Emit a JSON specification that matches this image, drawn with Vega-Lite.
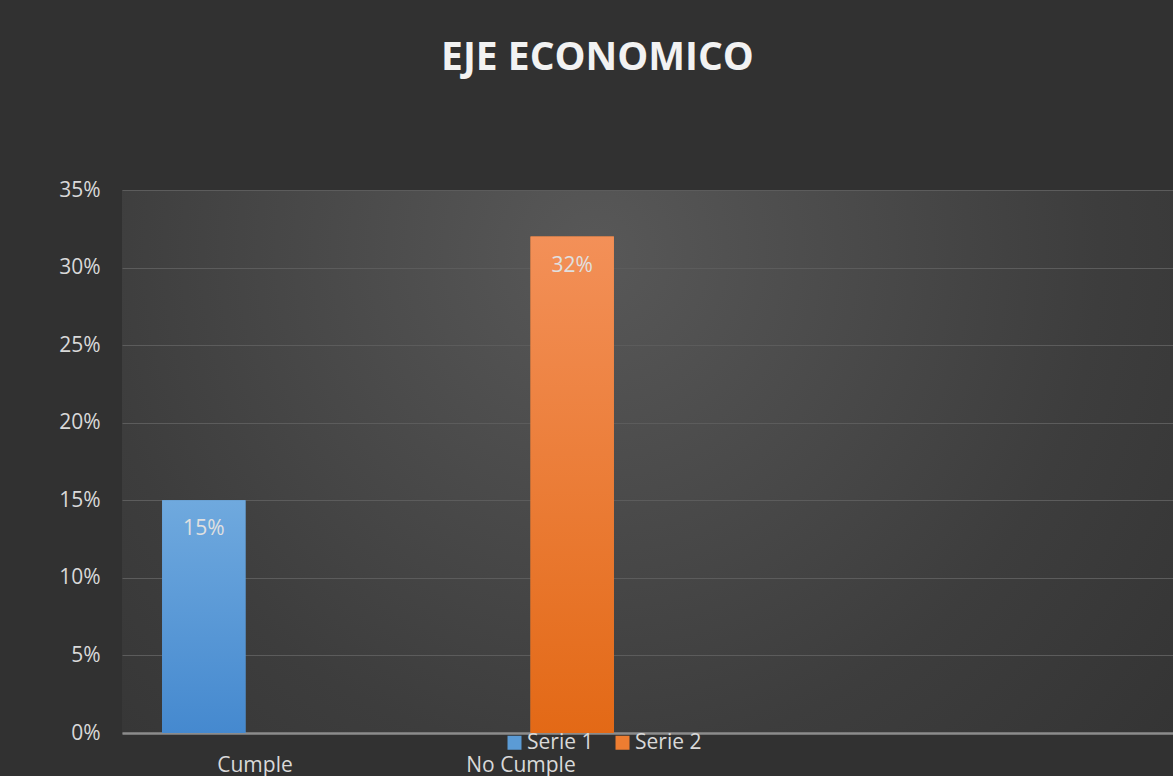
{
  "$schema": "https://vega.github.io/schema/vega-lite/v6.json",
  "autosize": {"type": "none"},
  "width": 1051,
  "height": 543,
  "padding": {"left": 122, "top": 190, "right": 0, "bottom": 43},
  "background": "#313131",
  "title": {
    "text": "EJE ECONOMICO",
    "font": "Open Sans",
    "fontSize": 39,
    "fontWeight": "bold",
    "color": "#f2f2f2",
    "anchor": "middle",
    "frame": "group",
    "dx": -50,
    "offset": 101
  },
  "data": {
    "values": [
      {"categoria": "Cumple", "serie": "Serie 1", "valor": 0.15},
      {"categoria": "No Cumple", "serie": "Serie 2", "valor": 0.32}
    ]
  },
  "encoding": {
    "x": {
      "field": "categoria",
      "type": "nominal",
      "scale": {"domain": ["Cumple", "No Cumple", "c3", "c4"], "range": [0, 1064], "paddingInner": 0, "paddingOuter": 0},
      "axis": {
        "title": null,
        "labelAngle": 0,
        "labelExpr": "datum.label == 'c3' || datum.label == 'c4' ? '' : datum.label",
        "labelFont": "Open Sans",
        "labelFontSize": 21,
        "labelColor": "#d9d9d9",
        "labelPadding": 21,
        "ticks": false,
        "grid": false,
        "domainColor": "#8c8c8c",
        "domainWidth": 2.5
      }
    },
    "xOffset": {
      "field": "serie",
      "type": "nominal",
      "scale": {"domain": ["Serie 1", "Serie 2"], "paddingInner": 0.186, "paddingOuter": 0.392}
    },
    "y": {
      "field": "valor",
      "type": "quantitative",
      "scale": {"domain": [0, 0.35], "nice": false},
      "axis": {
        "title": null,
        "values": [0, 0.05, 0.1, 0.15, 0.2, 0.25, 0.3, 0.35],
        "format": ".0%",
        "labelFont": "Open Sans",
        "labelFontSize": 21,
        "labelColor": "#d9d9d9",
        "labelPadding": 22,
        "ticks": false,
        "domain": false,
        "grid": true,
        "gridColor": "#5c5c5c",
        "gridWidth": 1
      }
    }
  },
  "layer": [
    {
      "mark": {"type": "bar"},
      "encoding": {
        "color": {
          "field": "serie",
          "type": "nominal",
          "scale": {"domain": ["Serie 1", "Serie 2"], "range": ["#5b9bd5", "#ed7d31"]},
          "legend": {
            "title": null,
            "orient": "none",
            "direction": "horizontal",
            "legendX": 382,
            "legendY": 542,
            "symbolType": "square",
            "symbolSize": 196,
            "symbolStrokeWidth": 0,
            "symbolOpacity": 1,
            "labelFont": "Open Sans",
            "labelFontSize": 21,
            "labelColor": "#d9d9d9",
            "labelOffset": 2,
            "columnPadding": 18
          }
        }
      }
    },
    {
      "transform": [{"filter": "datum.serie == 'Serie 1'"}],
      "mark": {
        "type": "bar",
        "color": {"gradient": "linear", "x1": 0, "y1": 0, "x2": 0, "y2": 1, "stops": [{"offset": 0, "color": "#6fa9de"}, {"offset": 1, "color": "#4589cf"}]}
      }
    },
    {
      "transform": [{"filter": "datum.serie == 'Serie 2'"}],
      "mark": {
        "type": "bar",
        "color": {"gradient": "linear", "x1": 0, "y1": 0, "x2": 0, "y2": 1, "stops": [{"offset": 0, "color": "#f39058"}, {"offset": 1, "color": "#e36916"}]}
      }
    },
    {
      "mark": {"type": "text", "baseline": "top", "dy": 18, "font": "Open Sans", "fontSize": 21, "color": "#e0e0e0"},
      "encoding": {
        "text": {"field": "valor", "type": "quantitative", "format": ".0%"}
      }
    }
  ],
  "config": {
    "view": {
      "stroke": null,
      "fill": {
        "gradient": "radial",
        "x1": 0.45, "y1": 0.3, "r1": 0,
        "x2": 0.45, "y2": 0.3, "r2": 0.8,
        "stops": [
          {"offset": 0, "color": "#585858"},
          {"offset": 0.6, "color": "#3d3d3d"},
          {"offset": 1, "color": "#313131"}
        ]
      }
    }
  }
}
